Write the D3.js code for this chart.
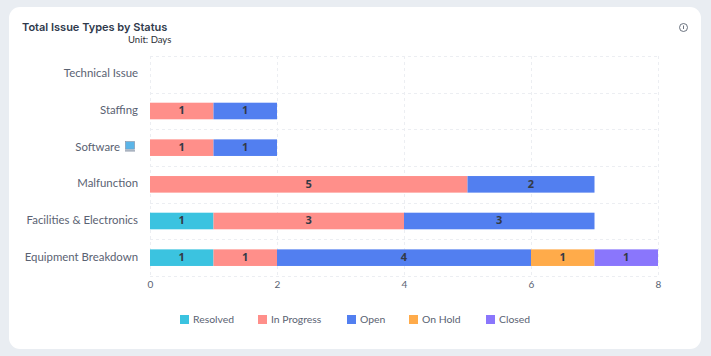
<!DOCTYPE html>
<html>
<head>
<meta charset="utf-8">
<script src="https://cdn.jsdelivr.net/npm/d3@7"></script>
<style>
	html, body { margin: 0; padding: 0; background: #e9edf2; }
	svg { display: block; }
	text { font-family: Lato, sans-serif; }
</style>
</head>
<body>
<div id="chart"></div>
<script>
const categories = ["Technical Issue", "Staffing", "Software", "Malfunction", "Facilities & Electronics", "Equipment Breakdown"]
const statuses = ["Resolved", "In Progress", "Open", "On Hold", "Closed"]
const colors = ["#3bc3e0", "#ff8f8a", "#527ff0", "#ffab4a", "#8a76fc"]
const resolved = [0, 0, 0, 0, 1, 1]
const inProgress = [0, 1, 1, 5, 3, 1]
const open = [0, 1, 1, 2, 3, 4]
const onHold = [0, 0, 0, 0, 0, 1]
const closed = [0, 0, 0, 0, 0, 1]
const xTicks = [0, 2, 4, 6, 8]

const margin = { top: 56, right: 53, bottom: 80, left: 150 }
const width = 711, height = 356
const innerW = width - margin.left - margin.right
const innerH = height - margin.top - margin.bottom

const svg = d3.select("#chart").append("svg")
	.attr("width", width)
	.attr("height", height)

// card
svg.append("rect")
	.attr("x", 9).attr("y", 7)
	.attr("width", 692).attr("height", 342)
	.attr("rx", 11)
	.attr("fill", "#fff")

svg.append("text")
	.attr("x", 22).attr("y", 31)
	.attr("font-size", 11)
	.attr("font-weight", 600)
	.attr("fill", "#2f3a4c")
	.style("font-family", "Inter")
	.text("Total Issue Types by Status")

svg.append("text")
	.attr("x", 128).attr("y", 43)
	.attr("font-size", 9.5)
	.attr("fill", "#2b2f36")
	.text("Unit: Days")

// info icon
const info = svg.append("g").attr("transform", "translate(683.5,27.5)")
info.append("circle").attr("r", 4).attr("fill", "none").attr("stroke", "#5b6372").attr("stroke-width", 0.9)
info.append("line").attr("y1", -2).attr("y2", 1.5).attr("stroke", "#5b6372").attr("stroke-width", 0.9)

const g = svg.append("g")
	.attr("transform", `translate(${margin.left},${margin.top})`)

const x = d3.scaleLinear().domain([0, 8]).range([0, innerW])
const y = d3.scaleBand().domain(categories).range([0, innerH])
const barH = 16.6

// grid
g.selectAll(".vgrid").data(xTicks).join("line")
	.attr("x1", d => x(d) + 0.5).attr("x2", d => x(d) + 0.5)
	.attr("y1", 0).attr("y2", innerH)
	.attr("stroke", "#eceef2")
	.attr("stroke-dasharray", "3,3")

g.selectAll(".hgrid").data(d3.range(categories.length + 1)).join("line")
	.attr("x1", 0).attr("x2", innerW)
	.attr("y1", d => Math.round(d * y.step()) + 0.5).attr("y2", d => Math.round(d * y.step()) + 0.5)
	.attr("stroke", "#eceef2")
	.attr("stroke-dasharray", "3,3")

// stacks
const rows = categories.map((c, i) => ({
	category: c,
	"Resolved": resolved[i],
	"In Progress": inProgress[i],
	"Open": open[i],
	"On Hold": onHold[i],
	"Closed": closed[i]
}))
const series = d3.stack().keys(statuses)(rows)

series.forEach((s, i) => {
	const parts = s.filter(d => d[1] > d[0])
	g.selectAll(".bar" + i).data(parts).join("rect")
		.attr("x", d => x(d[0]))
		.attr("y", d => y(d.data.category) + (y.bandwidth() - barH) / 2)
		.attr("width", d => x(d[1]) - x(d[0]))
		.attr("height", barH)
		.attr("fill", colors[i])

	g.selectAll(".lab" + i).data(parts).join("text")
		.attr("x", d => (x(d[0]) + x(d[1])) / 2)
		.attr("y", d => y(d.data.category) + y.bandwidth() / 2)
		.attr("dy", "0.3em")
		.attr("text-anchor", "middle")
		.attr("font-size", 11)
		.attr("font-weight", 700)
		.attr("fill", "#333a46")
		.style("font-family", "Noto Sans")
		.text(d => d[1] - d[0])
})

// axes
const yAxis = g.append("g").call(d3.axisLeft(y).tickSize(0).tickPadding(12))
yAxis.select(".domain").remove()
yAxis.selectAll("text")
	.attr("font-size", 11.4)
	.attr("fill", "#5a6272")
	.attr("dy", "0.26em")
	.style("font-family", "Lato")

const xAxis = g.append("g")
	.attr("transform", `translate(0,${innerH})`)
	.call(d3.axisBottom(x).tickValues(xTicks).tickSize(0).tickPadding(5))
xAxis.select(".domain").remove()
xAxis.selectAll("text")
	.attr("font-size", 10)
	.attr("fill", "#5a6272")
	.style("font-family", "Lato")

// laptop next to Software, the label keeps its place left of it
const softwareTick = yAxis.selectAll(".tick").filter(d => d === "Software")
softwareTick.select("text").attr("x", -30)
const laptop = softwareTick.append("g").attr("transform", "translate(-24.5,-6)")
laptop.append("rect").attr("width", 9).attr("height", 7.5).attr("fill", "#5bb5e8").attr("stroke", "#7d8da3").attr("stroke-width", 0.6)
laptop.append("rect").attr("x", -0.5).attr("y", 8).attr("width", 10).attr("height", 2).attr("fill", "#aab3c0")

// legend
const legendX = [180, 258, 347, 409, 486]
const legend = svg.append("g")
statuses.forEach((s, i) => {
	legend.append("rect")
		.attr("x", legendX[i]).attr("y", 315)
		.attr("width", 9).attr("height", 9)
		.attr("fill", colors[i])
	legend.append("text")
		.attr("x", legendX[i] + 13).attr("y", 323)
		.attr("font-size", 10.4)
		.attr("fill", "#5a6272")
		.text(s)
})
</script>
</body>
</html>
